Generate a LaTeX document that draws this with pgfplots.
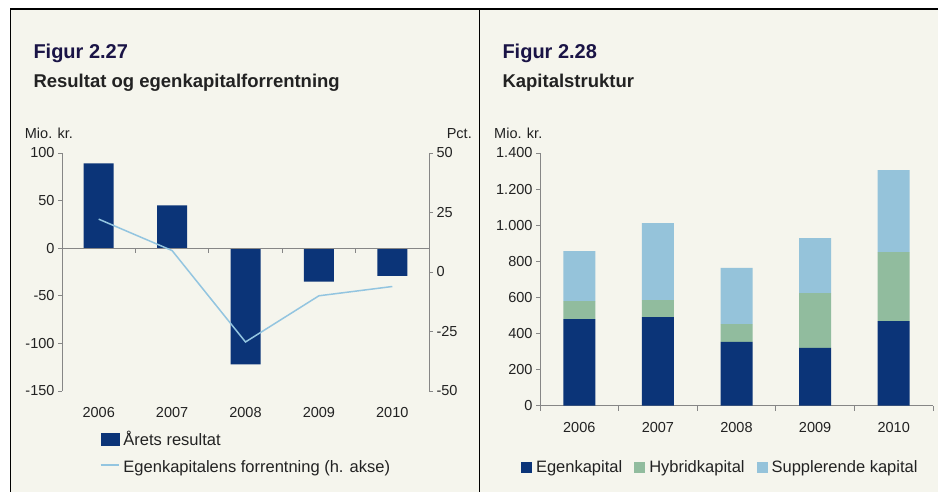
\documentclass[border=0pt]{standalone}
\usepackage{fontspec}
\setmainfont{Liberation Sans}
\usepackage{pgfplots}
\pgfplotsset{compat=1.18}
\definecolor{bgc}{HTML}{F5F5ED}
\definecolor{navy}{HTML}{0B3478}
\definecolor{hgreen}{HTML}{91BC9E}
\definecolor{sblue}{HTML}{95C3DA}
\definecolor{lblue}{HTML}{93C5E0}
\definecolor{axgray}{HTML}{868686}
\definecolor{txt}{HTML}{222222}
\definecolor{ttl}{HTML}{1A1446}
\newcommand\tickfont{\fontsize{14.5}{17}\selectfont}
\newcommand\legfont{\fontsize{16.5}{20}\selectfont}
\pgfplotsset{
 base/.style={
  scale only axis,
  /pgf/number format/assume math mode=true,
  ticklabel style={font=\tickfont, text=txt},
  tick align=outside,
  major tick length=4pt,
  minor tick length=5pt,
  axis line style={axgray, line width=0.8pt},
  tick style={axgray, line width=0.8pt},
  xmin=-0.5, xmax=4.5,
  xtick={0,...,4}, xticklabels={2006,2007,2008,2009,2010},
  legend cell align=left,
 },
 leg/.style={legend style={draw=none, fill=none, inner sep=0pt, outer sep=0pt,
   font=\legfont, text=txt, anchor=north west,
   nodes={inner sep=0pt, text height=12pt, text depth=4pt}}},
}
\begin{document}
\begin{tikzpicture}[x=1pt,y=1pt]
\fill[white] (0,0) rectangle (938,492);
\fill[bgc] (10,0) rectangle (938,483);
% titles
\node[anchor=base west, inner sep=0, text=ttl, font=\bfseries\fontsize{20}{24}\selectfont] at (33.3,433.7) {Figur 2.27};
\node[anchor=base west, inner sep=0, text=txt, font=\bfseries\fontsize{18.5}{22}\selectfont] at (33.3,404.7) {Resultat og egenkapitalforrentning};
\node[anchor=base west, inner sep=0, text=txt, font=\tickfont] at (24.7,353.7) {Mio. kr.};
\node[anchor=base east, inner sep=0, text=txt, font=\tickfont] at (472,353.7) {Pct.};
\node[anchor=base west, inner sep=0, text=ttl, font=\bfseries\fontsize{20}{24}\selectfont] at (502.3,433.7) {Figur 2.28};
\node[anchor=base west, inner sep=0, text=txt, font=\bfseries\fontsize{18.5}{22}\selectfont] at (502.3,404.7) {Kapitalstruktur};
\node[anchor=base west, inner sep=0, text=txt, font=\tickfont] at (494,353.7) {Mio. kr.};
% left chart, left axis
\begin{axis}[base, at={(62pt,101pt)}, anchor=south west, width=367pt, height=238pt,
 ymin=-150, ymax=100, ytick={-150,-100,...,100},
 axis lines*=left, x axis line style={draw=none}, xtick style={draw=none}, clip=false,
 xticklabel shift=9pt]
\addplot[ybar, bar width=30pt, fill=navy, draw=none] coordinates {(0,89) (1,45) (2,-122) (3,-35) (4,-29)};
\draw[axgray, line width=0.8pt] (axis cs:-0.5,0) -- (axis cs:4.5,0);
\pgfplotsinvokeforeach{0.5,1.5,2.5,3.5}{\draw[axgray, line width=0.8pt] (axis cs:#1,0) -- ++(0pt,-5pt);}
\end{axis}
% left chart, right axis
\begin{axis}[base, at={(62pt,101pt)}, anchor=south west, width=367pt, height=238pt,
 ymin=-50, ymax=50, ytick={-50,-25,...,50},
 axis y line*=right, axis x line=none, leg,
 legend style={at={(0.1035,-0.1765)}, row sep=11pt, /tikz/every odd column/.style={column sep=4pt}}]
\addlegendimage{legend image code/.code={\fill[navy] (0pt,-4pt) rectangle (18pt,8pt);}}
\addlegendentry{Årets resultat}
\addplot[lblue, line width=1.5pt, legend image code/.code={\draw[lblue, line width=1.5pt] (0pt,3pt) -- (18pt,3pt);}] coordinates {(0,22.2) (1,9) (2,-29.4) (3,-10) (4,-6.1)};
\addlegendentry{Egenkapitalens forrentning (h. akse)}
\end{axis}
% right chart
\begin{axis}[base, at={(540pt,86.3pt)}, anchor=south west, width=393pt, height=252.7pt,
 ybar stacked, bar width=32pt, ymin=0, ymax=1400, ytick={0,200,...,1400},
 /pgf/number format/1000 sep={.},
 axis lines*=left, xticklabel shift=9pt,
 minor xtick={-0.5,0.5,...,4.5}, major x tick style={draw=none},
 legend columns=3, leg,
 legend style={at={(-0.0483,-0.2188)}, /tikz/every odd column/.style={column sep=4pt}, /tikz/every even column/.style={column sep=12pt}}]
\addplot[fill=navy, draw=none, legend image code/.code={\fill[navy] (0pt,-4pt) rectangle (11pt,7pt);}] coordinates {(0,480) (1,491) (2,353) (3,320) (4,469)};
\addlegendentry{Egenkapital}
\addplot[fill=hgreen, draw=none, legend image code/.code={\fill[hgreen] (0pt,-4pt) rectangle (11pt,7pt);}] coordinates {(0,100) (1,94) (2,99) (3,304) (4,382)};
\addlegendentry{Hybridkapital}
\addplot[fill=sblue, draw=none, legend image code/.code={\fill[sblue] (0pt,-4pt) rectangle (11pt,7pt);}] coordinates {(0,277) (1,426) (2,311) (3,304) (4,454)};
\addlegendentry{Supplerende kapital}
\end{axis}
% frame lines
\draw[black, line width=1.3pt] (10,483) -- (938,483);
\draw[black, line width=1pt] (10,0) -- (10,483);
\draw[black, line width=1pt] (479.5,0) -- (479.5,483);
\pgfresetboundingbox
\path[use as bounding box] (0,0) rectangle (938,492);
\end{tikzpicture}
\end{document}
